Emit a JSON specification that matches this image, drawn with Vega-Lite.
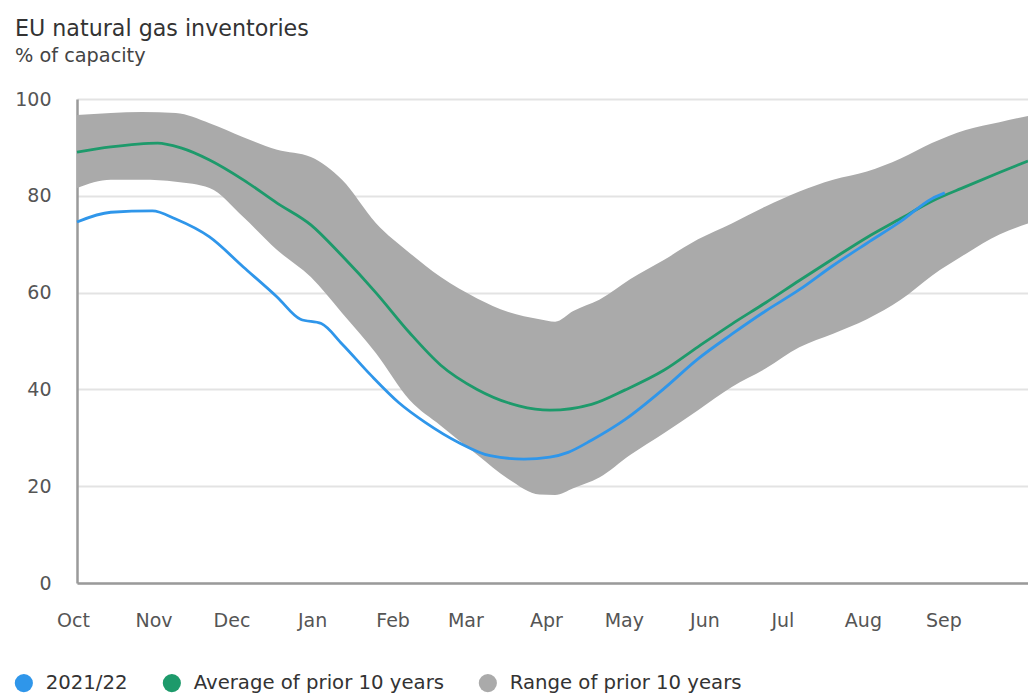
{
  "$schema": "https://vega.github.io/schema/vega-lite/v6.json",
  "width": 951,
  "height": 484,
  "autosize": {"type": "none"},
  "padding": {"left": 77, "top": 99, "right": 0, "bottom": 111},
  "background": "white",
  "title": {
    "text": "EU natural gas inventories",
    "subtitle": "% of capacity",
    "anchor": "start",
    "frame": "group",
    "dx": -62,
    "offset": 24,
    "font": "DejaVu Sans",
    "fontSize": 22.2,
    "fontWeight": "normal",
    "color": "#333333",
    "subtitleFont": "DejaVu Sans",
    "subtitleFontSize": 19.3,
    "subtitleColor": "#444444",
    "subtitlePadding": 7
  },
  "config": {
    "view": {"stroke": null},
    "font": "DejaVu Sans",
    "legend": {
      "orient": "none",
      "direction": "horizontal",
      "legendX": -63,
      "legendY": 574,
      "title": null,
      "symbolType": "circle",
      "symbolSize": 330,
      "symbolStrokeWidth": 0,
      "labelFont": "DejaVu Sans",
      "labelFontSize": 19.7,
      "labelColor": "#333333",
      "labelOffset": 12,
      "labelLimit": 400,
      "columnPadding": 34,
      "padding": 0
    }
  },
  "datasets": {
    "band": [
      {"date": "2021-10-01", "low": 81.6, "high": 96.7},
      {"date": "2021-10-14", "low": 83.3, "high": 97.1},
      {"date": "2021-10-26", "low": 83.3, "high": 97.3},
      {"date": "2021-11-08", "low": 82.9, "high": 97.1},
      {"date": "2021-11-21", "low": 81.6, "high": 95.0},
      {"date": "2021-12-04", "low": 75.6, "high": 92.1},
      {"date": "2021-12-17", "low": 68.8, "high": 89.5},
      {"date": "2021-12-30", "low": 63.2, "high": 88.0},
      {"date": "2022-01-11", "low": 55.8, "high": 83.3},
      {"date": "2022-01-24", "low": 47.5, "high": 74.4},
      {"date": "2022-02-06", "low": 37.8, "high": 68.2},
      {"date": "2022-02-18", "low": 32.5, "high": 63.2},
      {"date": "2022-03-04", "low": 26.5, "high": 58.8},
      {"date": "2022-03-16", "low": 21.5, "high": 56.0},
      {"date": "2022-03-28", "low": 18.3, "high": 54.5},
      {"date": "2022-04-03", "low": 18.2, "high": 54.0},
      {"date": "2022-04-10", "low": 19.6, "high": 56.2},
      {"date": "2022-04-20", "low": 21.8, "high": 58.5},
      {"date": "2022-05-02", "low": 26.5, "high": 62.8},
      {"date": "2022-05-15", "low": 31.0, "high": 66.8},
      {"date": "2022-05-28", "low": 35.7, "high": 71.0},
      {"date": "2022-06-10", "low": 40.5, "high": 74.3},
      {"date": "2022-06-23", "low": 44.3, "high": 77.8},
      {"date": "2022-07-06", "low": 48.7, "high": 80.9},
      {"date": "2022-07-19", "low": 51.5, "high": 83.3},
      {"date": "2022-08-01", "low": 54.5, "high": 85.0},
      {"date": "2022-08-14", "low": 58.5, "high": 87.7},
      {"date": "2022-08-26", "low": 63.5, "high": 90.9},
      {"date": "2022-09-08", "low": 68.0, "high": 93.6},
      {"date": "2022-09-21", "low": 72.0, "high": 95.2},
      {"date": "2022-10-02", "low": 74.3, "high": 96.5}
    ],
    "lines": [
      {"date": "2021-10-01", "series": "Average of prior 10 years", "value": 89.0},
      {"date": "2021-10-14", "series": "Average of prior 10 years", "value": 90.1},
      {"date": "2021-11-01", "series": "Average of prior 10 years", "value": 90.9},
      {"date": "2021-11-10", "series": "Average of prior 10 years", "value": 89.9},
      {"date": "2021-11-21", "series": "Average of prior 10 years", "value": 87.4},
      {"date": "2021-12-04", "series": "Average of prior 10 years", "value": 83.3},
      {"date": "2021-12-17", "series": "Average of prior 10 years", "value": 78.5},
      {"date": "2021-12-30", "series": "Average of prior 10 years", "value": 74.0},
      {"date": "2022-01-11", "series": "Average of prior 10 years", "value": 67.6},
      {"date": "2022-01-24", "series": "Average of prior 10 years", "value": 60.0},
      {"date": "2022-02-06", "series": "Average of prior 10 years", "value": 51.7},
      {"date": "2022-02-18", "series": "Average of prior 10 years", "value": 45.0},
      {"date": "2022-03-04", "series": "Average of prior 10 years", "value": 40.0},
      {"date": "2022-03-20", "series": "Average of prior 10 years", "value": 36.6},
      {"date": "2022-04-01", "series": "Average of prior 10 years", "value": 35.7},
      {"date": "2022-04-17", "series": "Average of prior 10 years", "value": 36.9},
      {"date": "2022-04-30", "series": "Average of prior 10 years", "value": 39.9},
      {"date": "2022-05-15", "series": "Average of prior 10 years", "value": 44.0},
      {"date": "2022-05-28", "series": "Average of prior 10 years", "value": 48.8},
      {"date": "2022-06-10", "series": "Average of prior 10 years", "value": 53.5},
      {"date": "2022-06-23", "series": "Average of prior 10 years", "value": 57.9},
      {"date": "2022-07-06", "series": "Average of prior 10 years", "value": 62.5},
      {"date": "2022-07-19", "series": "Average of prior 10 years", "value": 67.0},
      {"date": "2022-08-01", "series": "Average of prior 10 years", "value": 71.4},
      {"date": "2022-08-14", "series": "Average of prior 10 years", "value": 75.3},
      {"date": "2022-08-26", "series": "Average of prior 10 years", "value": 78.9},
      {"date": "2022-09-08", "series": "Average of prior 10 years", "value": 81.9},
      {"date": "2022-09-21", "series": "Average of prior 10 years", "value": 84.8},
      {"date": "2022-10-02", "series": "Average of prior 10 years", "value": 87.2},
      {"date": "2021-10-01", "series": "2021/22", "value": 74.6},
      {"date": "2021-10-14", "series": "2021/22", "value": 76.6},
      {"date": "2021-10-30", "series": "2021/22", "value": 76.9},
      {"date": "2021-11-08", "series": "2021/22", "value": 75.2},
      {"date": "2021-11-21", "series": "2021/22", "value": 71.5},
      {"date": "2021-12-04", "series": "2021/22", "value": 65.3},
      {"date": "2021-12-17", "series": "2021/22", "value": 59.1},
      {"date": "2021-12-26", "series": "2021/22", "value": 54.5},
      {"date": "2022-01-03", "series": "2021/22", "value": 53.6},
      {"date": "2022-01-11", "series": "2021/22", "value": 49.4},
      {"date": "2022-01-22", "series": "2021/22", "value": 43.0},
      {"date": "2022-02-02", "series": "2021/22", "value": 37.2},
      {"date": "2022-02-12", "series": "2021/22", "value": 33.2},
      {"date": "2022-02-25", "series": "2021/22", "value": 29.0},
      {"date": "2022-03-09", "series": "2021/22", "value": 26.3},
      {"date": "2022-03-22", "series": "2021/22", "value": 25.6},
      {"date": "2022-04-01", "series": "2021/22", "value": 26.0},
      {"date": "2022-04-08", "series": "2021/22", "value": 27.0},
      {"date": "2022-04-17", "series": "2021/22", "value": 29.5},
      {"date": "2022-04-30", "series": "2021/22", "value": 33.8},
      {"date": "2022-05-15", "series": "2021/22", "value": 40.2},
      {"date": "2022-05-28", "series": "2021/22", "value": 46.3},
      {"date": "2022-06-10", "series": "2021/22", "value": 51.4},
      {"date": "2022-06-23", "series": "2021/22", "value": 56.2},
      {"date": "2022-07-06", "series": "2021/22", "value": 60.6},
      {"date": "2022-07-19", "series": "2021/22", "value": 65.6},
      {"date": "2022-08-01", "series": "2021/22", "value": 70.2},
      {"date": "2022-08-14", "series": "2021/22", "value": 74.7},
      {"date": "2022-08-26", "series": "2021/22", "value": 79.4},
      {"date": "2022-08-31", "series": "2021/22", "value": 80.6}
    ]
  },
  "encoding": {
    "x": {
      "field": "date",
      "type": "temporal",
      "scale": {"type": "utc", "domain": ["2021-10-01", "2022-10-02"]},
      "axis": {
        "format": "%b",
        "values": [
          {"year": 2021, "month": 10, "date": 1, "utc": true},
          {"year": 2021, "month": 11, "date": 1, "utc": true},
          {"year": 2021, "month": 12, "date": 1, "utc": true},
          {"year": 2022, "month": 1, "date": 1, "utc": true},
          {"year": 2022, "month": 2, "date": 1, "utc": true},
          {"year": 2022, "month": 3, "date": 1, "utc": true},
          {"year": 2022, "month": 4, "date": 1, "utc": true},
          {"year": 2022, "month": 5, "date": 1, "utc": true},
          {"year": 2022, "month": 6, "date": 1, "utc": true},
          {"year": 2022, "month": 7, "date": 1, "utc": true},
          {"year": 2022, "month": 8, "date": 1, "utc": true},
          {"year": 2022, "month": 9, "date": 1, "utc": true}
        ],
        "grid": false,
        "ticks": false,
        "domain": true,
        "domainColor": "#9a9a9a",
        "domainWidth": 2.5,
        "labelFont": "DejaVu Sans",
        "labelFontSize": 19,
        "labelColor": "#555555",
        "labelPadding": 28,
        "labelAlign": "center",
        "labelFlush": false,
        "labelOverlap": false,
        "labelOffset": -4,
        "title": null
      }
    }
  },
  "layer": [
    {
      "data": {"name": "band"},
      "mark": {"type": "area", "interpolate": "monotone"},
      "encoding": {
        "y": {
          "field": "low",
          "type": "quantitative",
          "scale": {"domain": [0, 100], "nice": false},
          "axis": {
            "values": [0, 20, 40, 60, 80, 100],
            "grid": true,
            "gridColor": "#e3e3e3",
            "gridWidth": 2,
            "ticks": false,
            "domain": true,
            "domainColor": "#9a9a9a",
            "domainWidth": 2.5,
            "labelFont": "DejaVu Sans",
            "labelFontSize": 19,
            "labelColor": "#555555",
            "labelPadding": 26,
            "title": null
          }
        },
        "y2": {"field": "high"},
        "color": {
          "datum": "Range of prior 10 years",
          "type": "nominal",
          "scale": {
            "domain": ["2021/22", "Average of prior 10 years", "Range of prior 10 years"],
            "range": ["#2F96EA", "#1D9A6B", "#AAAAAA"]
          },
          "legend": {
            "title": null,
            "encode": {
              "symbols": {
                "update": {
                  "fill": {"scale": "color", "field": "value"},
                  "strokeWidth": {"value": 0},
                  "opacity": {"value": 1}
                }
              }
            }
          }
        }
      }
    },
    {
      "data": {"name": "lines"},
      "transform": [{"filter": "datum.series === 'Average of prior 10 years'"}],
      "mark": {"type": "line", "interpolate": "monotone", "strokeWidth": 2.8},
      "encoding": {
        "y": {"field": "value", "type": "quantitative"},
        "color": {"field": "series", "type": "nominal", "legend": {"title": null}}
      }
    },
    {
      "data": {"name": "lines"},
      "transform": [{"filter": "datum.series === '2021/22'"}],
      "mark": {"type": "line", "interpolate": "monotone", "strokeWidth": 2.8},
      "encoding": {
        "y": {"field": "value", "type": "quantitative"},
        "color": {"field": "series", "type": "nominal", "legend": {"title": null}}
      }
    }
  ]
}
